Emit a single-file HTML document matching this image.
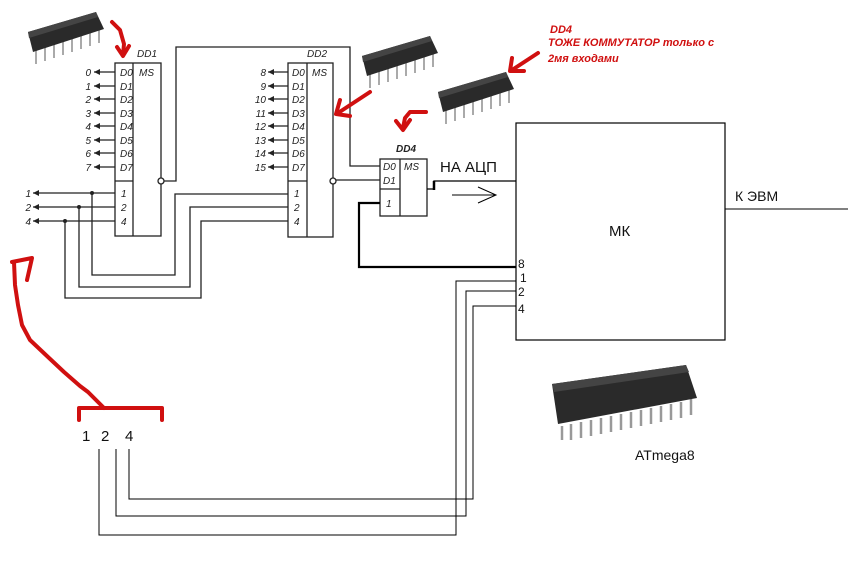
<!DOCTYPE html>
<html><head><meta charset="utf-8"><style>
html,body{margin:0;padding:0;background:#fff}
svg{display:block}
text{font-family:"Liberation Sans","DejaVu Sans",sans-serif}
.it{font-style:italic;font-size:10px;fill:#222}
</style></head><body>
<svg width="848" height="567" viewBox="0 0 848 567" xmlns="http://www.w3.org/2000/svg">
<defs>
<g id="chip">
  <g stroke="#aaa" stroke-width="2">
    <line x1="8" y1="38" x2="8" y2="52"/><line x1="17" y1="35" x2="17" y2="49"/>
    <line x1="26" y1="32" x2="26" y2="46"/><line x1="35" y1="29" x2="35" y2="43"/>
    <line x1="44" y1="26" x2="44" y2="40"/><line x1="53" y1="23" x2="53" y2="37"/>
    <line x1="62" y1="20" x2="62" y2="34"/><line x1="71" y1="17" x2="71" y2="31"/>
  </g>
  <polygon points="0,20 68,0 76,17 5,40" fill="#2a2a2a"/>
  <polygon points="0,20 68,0 70,5 1,26" fill="#444"/>
</g>
<marker id="ar" markerUnits="userSpaceOnUse" markerWidth="7" markerHeight="6" refX="6" refY="3" orient="auto"><path d="M0,0 L6,3 L0,6 z" fill="#222"/></marker>
</defs>

<use href="#chip" x="28" y="12"/>
<use href="#chip" x="362" y="36"/>
<use href="#chip" x="438" y="72"/>

<g stroke="#999" stroke-width="2.5">
  <line x1="571" y1="424" x2="571" y2="440"/><line x1="581" y1="422" x2="581" y2="438"/>
  <line x1="591" y1="420" x2="591" y2="436"/><line x1="601" y1="418" x2="601" y2="434"/>
  <line x1="611" y1="416" x2="611" y2="432"/><line x1="621" y1="414" x2="621" y2="430"/>
  <line x1="631" y1="412" x2="631" y2="428"/><line x1="641" y1="410" x2="641" y2="426"/>
  <line x1="651" y1="408" x2="651" y2="424"/><line x1="661" y1="406" x2="661" y2="422"/>
  <line x1="671" y1="404" x2="671" y2="420"/><line x1="681" y1="402" x2="681" y2="418"/>
  <line x1="691" y1="399" x2="691" y2="415"/><line x1="562" y1="426" x2="562" y2="440"/>
</g>
<polygon points="552,384 686,365 697,398 558,424" fill="#2a2a2a"/>
<polygon points="552,384 686,365 689,372 554,392" fill="#444"/>
<text x="635" y="460" font-size="14" fill="#111">ATmega8</text>

<g fill="none" stroke="#222" stroke-width="1.3">
<rect x="115" y="63" width="46" height="173"/>
<line x1="133" y1="63" x2="133" y2="236"/>
<line x1="115" y1="181" x2="133" y2="181"/>
<rect x="288" y="63" width="45" height="174"/>
<line x1="307" y1="63" x2="307" y2="237"/>
<line x1="288" y1="181" x2="307" y2="181"/>
<rect x="380" y="159" width="47" height="57"/>
<line x1="400" y1="159" x2="400" y2="216"/>
<line x1="380" y1="189" x2="400" y2="189"/>
<circle cx="161" cy="181" r="3" fill="#fff"/>
<polyline points="164,181 176,181 176,47 350,47 350,166 380,166"/>
<circle cx="333" cy="181" r="3" fill="#fff"/>
<line x1="336" y1="180" x2="380" y2="180"/>
<g marker-end="url(#ar)">
<line x1="115" y1="72" x2="94" y2="72"/><line x1="115" y1="86" x2="94" y2="86"/>
<line x1="115" y1="99" x2="94" y2="99"/><line x1="115" y1="113" x2="94" y2="113"/>
<line x1="115" y1="126" x2="94" y2="126"/><line x1="115" y1="140" x2="94" y2="140"/>
<line x1="115" y1="153" x2="94" y2="153"/><line x1="115" y1="167" x2="94" y2="167"/>
<line x1="288" y1="72" x2="268" y2="72"/><line x1="288" y1="86" x2="268" y2="86"/>
<line x1="288" y1="99" x2="268" y2="99"/><line x1="288" y1="113" x2="268" y2="113"/>
<line x1="288" y1="126" x2="268" y2="126"/><line x1="288" y1="140" x2="268" y2="140"/>
<line x1="288" y1="153" x2="268" y2="153"/><line x1="288" y1="167" x2="268" y2="167"/>
<line x1="115" y1="193" x2="33" y2="193"/><line x1="115" y1="207" x2="33" y2="207"/>
<line x1="115" y1="221" x2="33" y2="221"/>
</g>
<polyline points="92,193 92,275 175,275 175,194 288,194"/>
<polyline points="79,207 79,287 190,287 190,207 288,207"/>
<polyline points="65,221 65,298 201,298 201,221 288,221"/>
</g>
<g fill="#222"><circle cx="92" cy="193" r="2"/><circle cx="79" cy="207" r="2"/><circle cx="65" cy="221" r="2"/></g>

<text class="it" x="137" y="57">DD1</text>
<text class="it" x="120" y="76">D0</text><text class="it" x="139" y="76">MS</text>
<text class="it" x="120" y="90">D1</text><text class="it" x="120" y="103">D2</text>
<text class="it" x="120" y="117">D3</text><text class="it" x="120" y="130">D4</text>
<text class="it" x="120" y="144">D5</text><text class="it" x="120" y="157">D6</text>
<text class="it" x="120" y="171">D7</text>
<text class="it" x="121" y="197">1</text><text class="it" x="121" y="211">2</text><text class="it" x="121" y="225">4</text>
<g text-anchor="end">
<text class="it" x="91" y="76">0</text><text class="it" x="91" y="90">1</text><text class="it" x="91" y="103">2</text>
<text class="it" x="91" y="117">3</text><text class="it" x="91" y="130">4</text><text class="it" x="91" y="144">5</text>
<text class="it" x="91" y="157">6</text><text class="it" x="91" y="171">7</text>
<text class="it" x="266" y="76">8</text><text class="it" x="266" y="90">9</text><text class="it" x="266" y="103">10</text>
<text class="it" x="266" y="117">11</text><text class="it" x="266" y="130">12</text><text class="it" x="266" y="144">13</text>
<text class="it" x="266" y="157">14</text><text class="it" x="266" y="171">15</text>
<text class="it" x="31" y="197">1</text><text class="it" x="31" y="211">2</text><text class="it" x="31" y="225">4</text>
</g>
<text class="it" x="307" y="57">DD2</text>
<text class="it" x="292" y="76">D0</text><text class="it" x="312" y="76">MS</text>
<text class="it" x="292" y="90">D1</text><text class="it" x="292" y="103">D2</text>
<text class="it" x="292" y="117">D3</text><text class="it" x="292" y="130">D4</text>
<text class="it" x="292" y="144">D5</text><text class="it" x="292" y="157">D6</text>
<text class="it" x="292" y="171">D7</text>
<text class="it" x="294" y="197">1</text><text class="it" x="294" y="211">2</text><text class="it" x="294" y="225">4</text>
<text class="it" x="396" y="152" font-weight="bold">DD4</text>
<text class="it" x="383" y="170">D0</text><text class="it" x="404" y="170">MS</text>
<text class="it" x="383" y="184">D1</text><text class="it" x="386" y="207">1</text>

<g fill="none" stroke="#000">
<polyline points="427,189 434,189 434,181 446,181 516,181" stroke-width="1.3"/>
<line x1="434" y1="181" x2="434" y2="190" stroke-width="2.5"/>
<polyline points="380,203 359,203 359,267 516,267" stroke-width="2.2"/>
<line x1="452" y1="195" x2="496" y2="195"/>
<polyline points="478,187 496,195 478,203"/>
<rect x="516" y="123" width="209" height="217" stroke-width="1.2"/>
<line x1="725" y1="209" x2="848" y2="209"/>
<polyline points="516,281 456,281 456,535 99,535 99,449"/>
<polyline points="516,291 466,291 466,516 116,516 116,449"/>
<polyline points="516,306 473,306 473,499 129,499 129,449"/>
</g>
<text x="440" y="172" font-size="15" fill="#111">НА АЦП</text>
<text x="609" y="236" font-size="15" fill="#111">МК</text>
<text x="735" y="201" font-size="14" fill="#111">К ЭВМ</text>
<g font-size="12" fill="#111">
<text x="518" y="268">8</text><text x="520" y="282">1</text><text x="518" y="296">2</text><text x="518" y="313">4</text>
</g>
<g font-size="15" fill="#111"><text x="82" y="441">1</text><text x="101" y="441">2</text><text x="125" y="441">4</text></g>

<g fill="none" stroke="#d01010" stroke-width="4" stroke-linecap="round" stroke-linejoin="round">
<path d="M79,420 L79,408 L162,408 L162,420"/>
<path d="M104,408 L88,392 L80,386 L64,372 L48,357 L30,340 L22,325 L18,305 L15,285 L14,262"/>
<path d="M12,262 L32,258 L27,280"/>
<path d="M112,22 L120,30 L124,44 L123,55"/>
<path d="M117,47 L123,56 L129,46"/>
<path d="M370,92 L338,113"/>
<path d="M340,100 L336,114 L350,116"/>
<path d="M426,112 L410,112 L405,118 L403,128"/>
<path d="M396,121 L403,130 L410,120"/>
<path d="M538,53 L512,70"/>
<path d="M512,58 L510,71 L524,71"/>
</g>
<g fill="#d01010" font-style="italic" font-weight="bold" font-size="11">
<text x="550" y="33">DD4</text>
<text x="548" y="46">ТОЖЕ КОММУТАТОР только с</text>
<text x="548" y="62">2мя входами</text>
</g>
</svg>
</body></html>
